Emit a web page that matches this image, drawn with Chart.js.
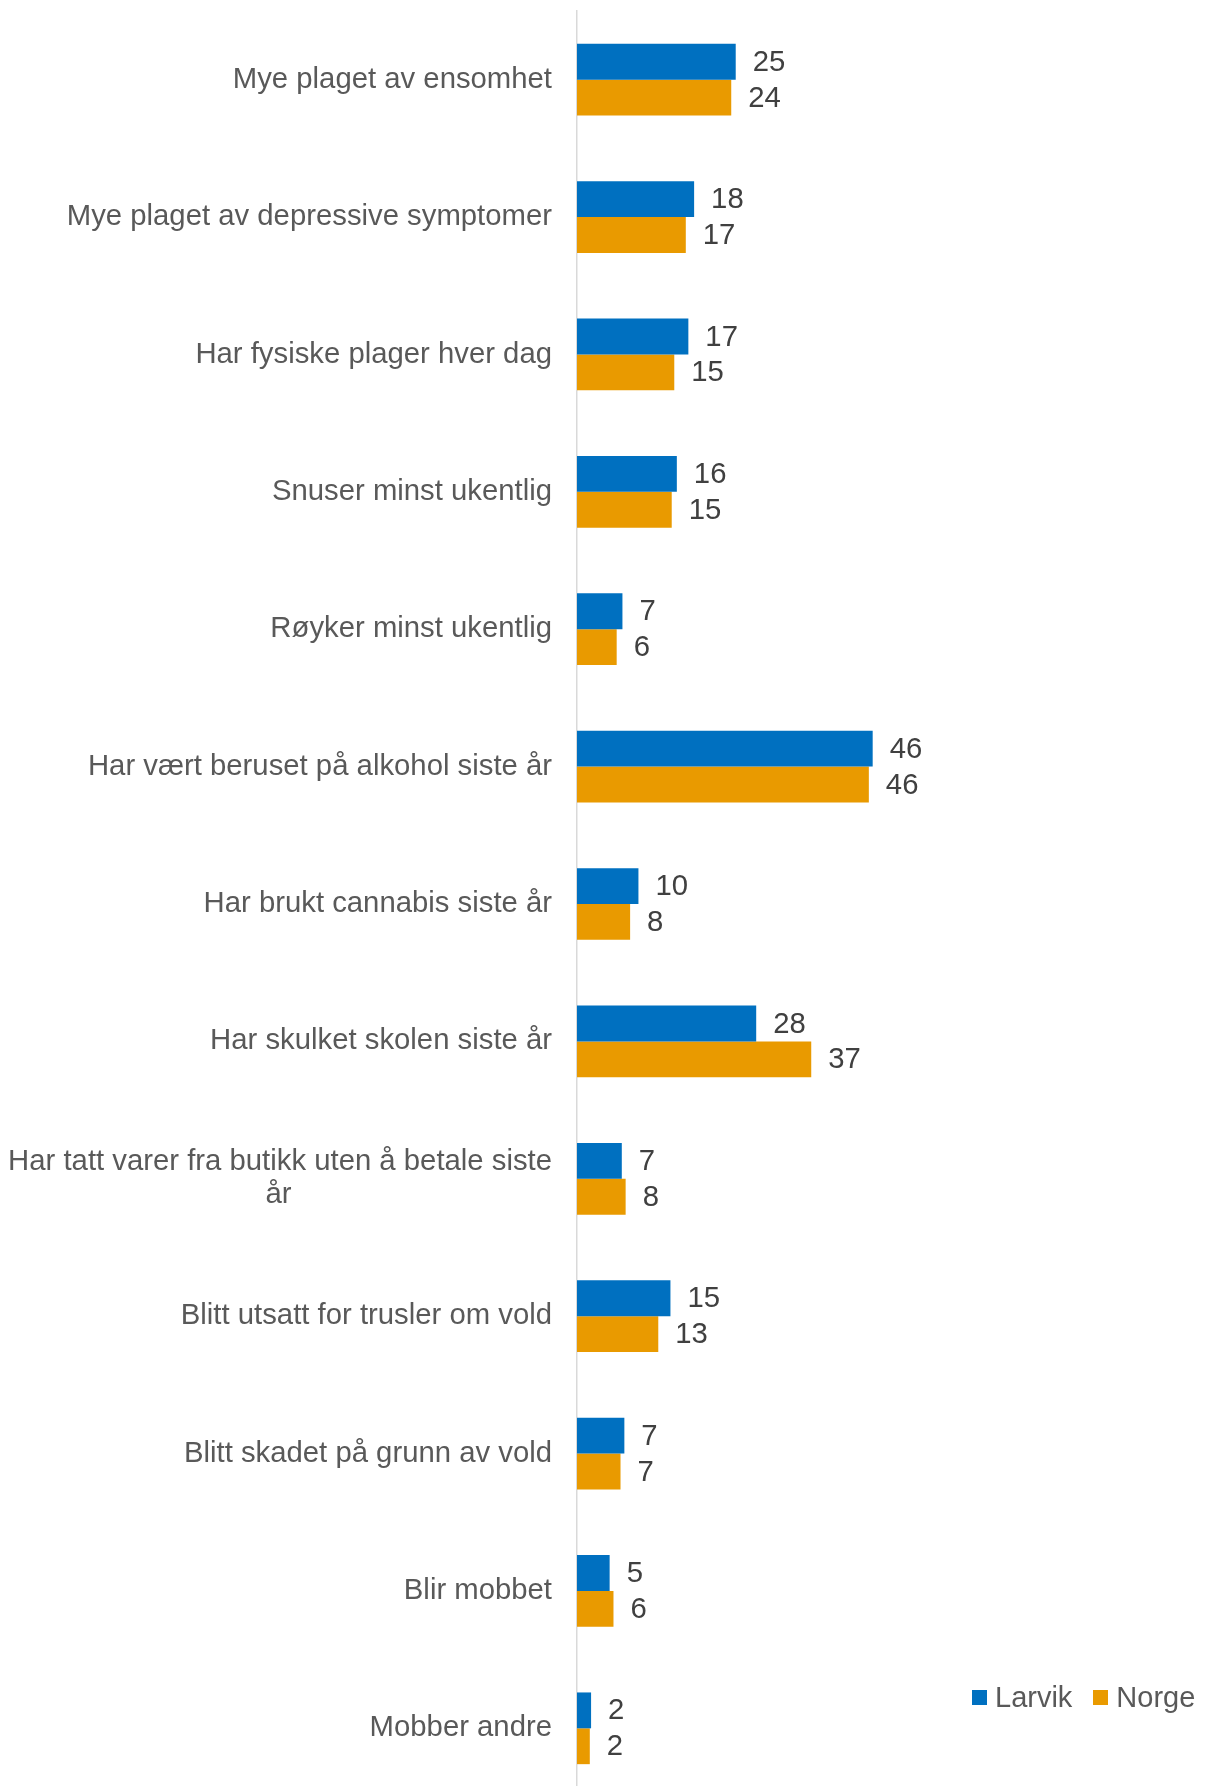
<!DOCTYPE html>
<html>
<head>
<meta charset="utf-8">
<script src="https://cdn.jsdelivr.net/npm/chart.js@4/dist/chart.umd.min.js"></script>
<style>
  html, body { margin: 0; padding: 0; background: #ffffff; overflow: hidden; }
  #wrap { position: relative; width: 1205px; height: 1800px; }
  #legend { position: absolute; left: 972px; top: 1682px; display: flex; align-items: center;
            font: 29px "Liberation Sans", Arial, sans-serif; color: #595959; line-height: 30px; white-space: nowrap; }
  #legend .item { display: flex; align-items: center; margin-right: 21px; }
  #legend .sw { width: 15px; height: 15px; margin-right: 8px; display: inline-block; }
</style>
</head>
<body>
<div id="wrap">
  <canvas id="c"></canvas>
  <div id="legend"></div>
</div>
<script>
const categories = [
  "Mye plaget av ensomhet",
  "Mye plaget av depressive symptomer",
  "Har fysiske plager hver dag",
  "Snuser minst ukentlig",
  "Røyker minst ukentlig",
  "Har vært beruset på alkohol siste år",
  "Har brukt cannabis siste år",
  "Har skulket skolen siste år",
  ["Har tatt varer fra butikk uten å betale siste", "år"],
  "Blitt utsatt for trusler om vold",
  "Blitt skadet på grunn av vold",
  "Blir mobbet",
  "Mobber andre"
];
const seriesNames = ["Larvik", "Norge"];
const larvik = [24.8, 18.3, 17.4, 15.6, 7.1, 46.2, 9.6, 28.0, 7.0, 14.6, 7.4, 5.1, 2.2];
const norge  = [24.1, 17.0, 15.2, 14.8, 6.2, 45.6, 8.3, 36.6, 7.6, 12.7, 6.8, 5.7, 2.0];
const colors = ["#0070C0", "#E99A00"];

const FONT_FAMILY = '"Liberation Sans", Arial, sans-serif';
const FONT_SIZE = 29.3;
const FONT = FONT_SIZE + 'px ' + FONT_FAMILY;

const measureCtx = document.createElement('canvas').getContext('2d');
measureCtx.font = FONT;
function centerLines(lines) {
  const widths = lines.map(l => measureCtx.measureText(l).width);
  const max = Math.max(...widths);
  const sp = measureCtx.measureText(' ').width;
  return lines.map((l, i) => l + ' '.repeat(Math.round((max - widths[i]) / 2 / sp)));
}

const valueLabels = {
  id: 'valueLabels',
  afterDatasetsDraw(chart) {
    const ctx = chart.ctx;
    ctx.save();
    ctx.font = FONT;
    ctx.fillStyle = '#404040';
    ctx.textAlign = 'left';
    ctx.textBaseline = 'middle';
    chart.data.datasets.forEach((ds, di) => {
      const meta = chart.getDatasetMeta(di);
      meta.data.forEach((bar, i) => {
        ctx.fillText(String(Math.round(ds.data[i])), bar.x + 17, bar.y + 1);
      });
    });
    ctx.restore();
  }
};

const chart = new Chart(document.getElementById('c'), {
  type: 'bar',
  data: {
    labels: categories,
    datasets: [
      { label: seriesNames[0], data: larvik, backgroundColor: colors[0], borderWidth: 0 },
      { label: seriesNames[1], data: norge, backgroundColor: colors[1], borderWidth: 0 }
    ]
  },
  options: {
    indexAxis: 'y',
    responsive: true,
    maintainAspectRatio: false,
    animation: false,
    layout: { padding: { top: 11, bottom: 3, left: 0, right: 52 } },
    datasets: { bar: { categoryPercentage: 0.522, barPercentage: 1.0 } },
    plugins: { legend: { display: false }, tooltip: { enabled: false } },
    scales: {
      x: { display: false, min: 0, max: 90 },
      y: {
        type: 'category',
        grid: { display: false, drawTicks: false },
        border: { display: true, color: '#D9D9D9', width: 1.5 },
        afterFit(scale) { scale.width = 577; scale.paddingTop = 0; scale.paddingBottom = 0; },
        ticks: {
          padding: 25,
          crossAlign: 'near',
          color: '#595959',
          font: { family: FONT_FAMILY, size: FONT_SIZE, lineHeight: 1.13 },
          callback: function(value) {
            const lab = this.getLabelForValue(value);
            return Array.isArray(lab) ? centerLines(lab) : lab;
          }
        }
      }
    }
  },
  plugins: [valueLabels]
});

const legendEl = document.getElementById('legend');
chart.data.datasets.forEach(ds => {
  const item = document.createElement('span');
  item.className = 'item';
  const sw = document.createElement('span');
  sw.className = 'sw';
  sw.style.background = ds.backgroundColor;
  const tx = document.createElement('span');
  tx.textContent = ds.label;
  item.appendChild(sw);
  item.appendChild(tx);
  legendEl.appendChild(item);
});
</script>
</body>
</html>
